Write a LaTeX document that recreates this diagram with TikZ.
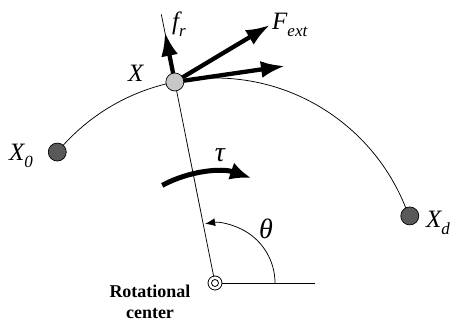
\documentclass[tikz,border=0pt]{standalone}
\usepackage{fontspec}
\setmainfont{Liberation Serif}
\usetikzlibrary{arrows.meta,calc}
\begin{document}
\begin{tikzpicture}[x=1pt,y=1pt,
  lbl/.style={font=\fontsize{25}{28}\selectfont\itshape, inner sep=0pt, anchor=base west},
  thinln/.style={line width=0.75pt, black},
  force/.style={line width=4.3pt, -{Latex[length=24pt,width=17pt]}},
  dot/.style={circle, draw=black, line width=0.7pt, minimum size=18pt, inner sep=0pt},
]
\newcommand{\sbs}[1]{\raisebox{-0.25em}{\fontsize{17}{18}\selectfont\itshape #1}}
\useasboundingbox (0,0) rectangle (460,323);
\coordinate (C) at (215,40);
\coordinate (X) at ($(C)+(101.3:205)$);
\coordinate (P0) at ($(C)+(140.3:205)$);
\coordinate (Pd) at ($(C)+(19:206)$);
% trajectory arc
\draw[thinln] (P0) arc[start angle=140.3, end angle=19, radius=205];
% radial line
\coordinate (Rtop) at ($(C)+(101.3:274)$);
\draw[thinln] (C) -- (Rtop);
% horizontal reference line
\coordinate (H) at (315,40);
\draw[thinln] (C) -- (H);
% theta arc
\draw[thinln, -{Latex[length=10pt,width=8pt]}] ($(C)+(0:60)$) arc[start angle=0, end angle=99.5, radius=60];
% tau arrow
\draw[line width=5pt, -{Latex[length=21pt,width=18pt]}] ($(C)+(118.4:111)$) arc[start angle=118.4, end angle=71, radius=111];
% forces
\coordinate (Ffr) at ($(C)+(101.3:256)$);
\coordinate (Fext) at (270,298);
\coordinate (Ft) at (285,257);
\draw[force] (X) -- (Ffr);
\draw[force] (X) -- (Fext);
\draw[force] (X) -- (Ft);
% points
\node[dot, fill=black!22] (Xn) at (X) {};
\node[dot, fill=black!65] (X0) at (P0) {};
\node[dot, fill=black!65] (Xd) at (Pd) {};
\node[circle, draw=black, line width=0.8pt, minimum size=14pt, inner sep=0pt, fill=white] (Cn) at (C) {};
\node[circle, draw=black, line width=0.8pt, minimum size=7pt, inner sep=0pt] (Ci) at (C) {};
% labels
\node[lbl] (lX) at (128,241) {X};
\node[lbl] (lX0) at (9,162) {X\sbs{0}};
\node[lbl] (lXd) at (426,95) {X\sbs{d}};
\node[lbl] (lfr) at (172,293) {f\sbs{r}};
\node[lbl] (lF) at (272,293) {F\sbs{ext}};
\node[font=\fontsize{28}{30}\selectfont\itshape, inner sep=0pt] (ltau) at (220,168) {τ};
\node[font=\fontsize{28}{30}\selectfont\itshape, inner sep=0pt] (lth) at (266,94) {θ};
\node[font=\fontsize{18}{21}\selectfont\bfseries, align=center, inner sep=0pt] (lrc) at (150,21) {Rotational\\center};
\end{tikzpicture}
\end{document}
